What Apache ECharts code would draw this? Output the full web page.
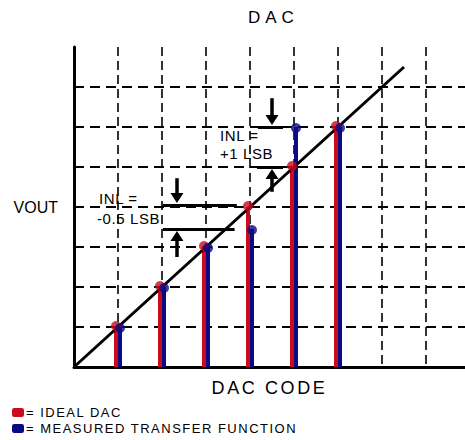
<!DOCTYPE html>
<html>
<head>
<meta charset="utf-8">
<script src="https://cdn.jsdelivr.net/npm/echarts@6/dist/echarts.min.js"></script>
<style>
  html, body { margin: 0; padding: 0; background: #fff; }
  #chart { width: 465px; height: 440px; }
  /* the original uses widely spaced lettering */
  #chart text[style*="17px"] { letter-spacing: 5px; }
  #chart text[style*="18px"] { letter-spacing: 2.6px; }
  #chart text[style*="15px"] { letter-spacing: 0.6px; }
  #chart text[style*="13px"] { letter-spacing: 1.5px; }
</style>
</head>
<body>
<div id="chart"></div>
<script>
// DAC codes and output levels (in LSB)
const codes = [1, 2, 3, 4, 5, 6];
const idealOut = [1, 2, 3, 4, 5, 6];
const measuredOut = [1, 2, 3, 3.45, 6, 6];
const idealLine = [[0, 0], [7.5, 7.5]];

// INL annotation: reference lines and arrows (arrow tip is the last value)
const refLines = [
  [[2.02, 4.05], [3.7, 4.05]],
  [[2.02, 3.45], [3.65, 3.45]],
  [[4.18, 6.0], [4.75, 6.0]],
  [[4.16, 5.0], [4.75, 5.0]],
];
const arrows = [
  { x: 2.34, from: 4.72, to: 4.1 },
  { x: 2.34, from: 2.75, to: 3.4 },
  { x: 4.5, from: 6.72, to: 6.05 },
  { x: 4.5, from: 4.38, to: 4.95 },
];

const RED = '#cc0a1e';
const BLUE = '#0a0a82';
const FONT = 'Liberation Sans';
const PX_PER_UNIT_Y = 40;
const HEAD = 10;

const chart = echarts.init(document.getElementById('chart'), null, { renderer: 'svg' });

const zip = (xs, ys) => xs.map((x, i) => [x, ys[i]]);

const arrowLines = arrows.map((a) => {
  const dir = a.to > a.from ? 1 : -1;
  const end = a.to - (dir * HEAD) / 2 / PX_PER_UNIT_Y;
  return [{ coord: [a.x, a.from] }, { coord: [a.x, end] }];
});

chart.setOption({
  animation: false,
  title: {
    text: 'DAC',
    left: 248,
    top: 9,
    padding: 0,
    textStyle: { fontFamily: FONT, fontSize: 17, fontWeight: 'normal', color: '#000' },
  },
  legend: {
    orient: 'vertical',
    left: 12,
    top: 406,
    height: 34,
    padding: 0,
    itemWidth: 12,
    itemHeight: 9,
    itemGap: 3,
    selectedMode: false,
    formatter: '= {name}',
    textStyle: { fontFamily: FONT, fontSize: 13, color: '#000', padding: [0, 0, 0, -3] },
    data: [
      { name: 'IDEAL DAC', icon: 'roundRect' },
      { name: 'MEASURED TRANSFER FUNCTION', icon: 'roundRect' },
    ],
  },
  grid: { left: 74, top: 47, width: 391, height: 320 },
  xAxis: {
    type: 'value',
    min: 0,
    max: 391 / 44,
    interval: 1,
    name: 'DAC CODE',
    nameLocation: 'middle',
    nameGap: 12,
    nameTextStyle: { fontFamily: FONT, fontSize: 18, color: '#000', verticalAlign: 'top' },
    axisLine: { lineStyle: { color: '#000', width: 3 } },
    axisTick: { show: false },
    axisLabel: { show: false },
    splitLine: {
      show: true,
      showMinLine: false,
      showMaxLine: false,
      lineStyle: { color: '#000', width: 1.6, type: [9, 5] },
    },
  },
  yAxis: {
    type: 'value',
    min: 0,
    max: 8,
    interval: 1,
    name: 'VOUT',
    nameLocation: 'middle',
    nameRotate: 0,
    nameGap: 16,
    nameTextStyle: { fontFamily: FONT, fontSize: 16, color: '#000' },
    axisLine: { lineStyle: { color: '#000', width: 3 } },
    axisTick: { show: false },
    axisLabel: { show: false },
    splitLine: {
      show: true,
      showMinLine: false,
      showMaxLine: false,
      lineStyle: { color: '#000', width: 1.8, type: [10, 6] },
    },
  },
  graphic: [
    { type: 'text', left: 99, top: 191, style: { text: 'INL =', font: `15px "${FONT}"`, fill: '#000' } },
    { type: 'text', left: 97, top: 211, style: { text: '-0.5 LSB', font: `15px "${FONT}"`, fill: '#000' } },
    { type: 'text', left: 220, top: 128, style: { text: 'INL =', font: `15px "${FONT}"`, fill: '#000' } },
    { type: 'text', left: 220, top: 146, style: { text: '+1 LSB', font: `15px "${FONT}"`, fill: '#000' } },
  ],
  series: [
    {
      name: 'IDEAL DAC',
      type: 'bar',
      barWidth: 4,
      barGap: '0%',
      z: 2,
      itemStyle: { color: RED },
      data: zip(codes, idealOut),
    },
    {
      name: 'MEASURED TRANSFER FUNCTION',
      type: 'bar',
      barWidth: 4,
      barGap: '0%',
      z: 2,
      itemStyle: { color: BLUE },
      data: zip(codes, measuredOut),
    },
    {
      type: 'line',
      z: 3,
      symbol: 'none',
      silent: true,
      lineStyle: { color: '#000', width: 3 },
      data: idealLine,
    },
    {
      name: 'IDEAL DAC',
      type: 'scatter',
      z: 4,
      symbol: 'circle',
      symbolSize: 10,
      symbolOffset: [-2, -1],
      itemStyle: { color: RED },
      data: zip(codes, idealOut),
    },
    {
      name: 'MEASURED TRANSFER FUNCTION',
      type: 'scatter',
      z: 5,
      symbol: 'circle',
      symbolSize: 10,
      symbolOffset: [2, 1],
      itemStyle: { color: BLUE },
      data: zip(codes, measuredOut),
    },
    {
      type: 'line',
      z: 6,
      data: [],
      markLine: {
        silent: true,
        animation: false,
        symbol: 'none',
        label: { show: false },
        lineStyle: { color: '#000', width: 3, type: 'solid' },
        data: refLines.map(([a, b]) => [{ coord: a }, { coord: b }]),
      },
    },
    {
      type: 'line',
      z: 6,
      data: [],
      markLine: {
        silent: true,
        animation: false,
        symbol: ['none', 'triangle'],
        symbolSize: [13, HEAD],
        label: { show: false },
        lineStyle: { color: '#000', width: 3.5, type: 'solid' },
        data: arrowLines,
      },
    },
  ],
});
</script>
</body>
</html>
